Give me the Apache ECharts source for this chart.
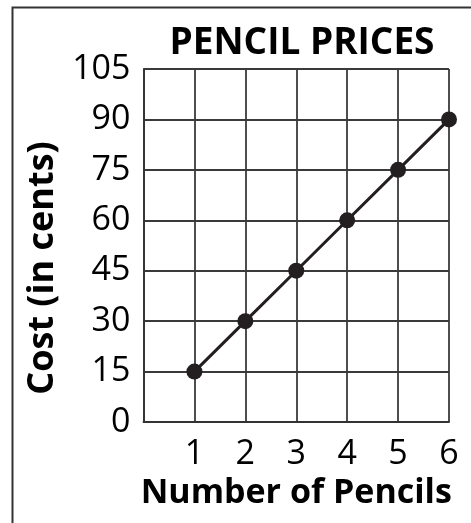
<!DOCTYPE html>
<html>
<head>
<meta charset="utf-8">
<script src="https://cdn.jsdelivr.net/npm/echarts@6/dist/echarts.min.js"></script>
<style>html,body{margin:0;padding:0;background:#fff}#c{width:471px;height:523px}</style>
</head>
<body>
<div id="c"></div>
<script>
var titleText = 'PENCIL PRICES';
var xName = 'Number of Pencils';
var yName = 'Cost (in cents)';
var pencils = [1, 2, 3, 4, 5, 6];
var costs = [15, 30, 45, 60, 75, 90];

var FONT = '"Open Sans", "Noto Sans", sans-serif';
var chart = echarts.init(document.getElementById('c'), null, {renderer: 'canvas'});
chart.setOption({
  animation: false,
  backgroundColor: '#fff',
  title: {
    text: titleText, left: 297, top: 20, textAlign: 'center',
    textStyle: {fontFamily: FONT, fontWeight: 'bold', fontSize: 37, color: '#000'}
  },
  grid: {left: 143.5, top: 69, right: 22, bottom: 101, containLabel: false},
  xAxis: {
    type: 'value', min: 0, max: 6, interval: 1,
    name: xName, nameLocation: 'middle', nameGap: 52,
    nameTextStyle: {fontFamily: FONT, fontWeight: 'bold', fontSize: 34, color: '#000'},
    axisLine: {show: true, lineStyle: {color: '#333', width: 1.8}},
    axisTick: {show: false},
    axisLabel: {fontFamily: FONT, fontSize: 34, color: '#000', margin: 15,
      formatter: function (v) { return v === 0 ? '' : String(v); }},
    splitLine: {show: true, lineStyle: {color: '#3a3a3a', width: 1.8}}
  },
  yAxis: {
    type: 'value', min: 0, max: 105, interval: 15,
    axisLine: {show: true, lineStyle: {color: '#333', width: 1.8}},
    axisTick: {show: false},
    axisLabel: {fontFamily: FONT, fontSize: 34, color: '#000', margin: 13, padding: [4, 0, 0, 0]},
    splitLine: {show: true, lineStyle: {color: '#3a3a3a', width: 1.8}}
  },
  graphic: [
    {type: 'rect', left: 10, top: 5, shape: {width: 520, height: 600},
      style: {fill: 'none', stroke: '#333', lineWidth: 2}, silent: true},
    {type: 'text', x: 43, y: 268, rotation: Math.PI / 2,
      style: {text: yName, font: 'bold 36px ' + FONT, fill: '#000', align: 'center', verticalAlign: 'middle'}}
  ],
  series: [{
    type: 'line',
    data: pencils.map(function (p, i) { return [p, costs[i]]; }),
    symbol: 'circle', symbolSize: 16,
    lineStyle: {color: '#231f20', width: 3},
    itemStyle: {color: '#231f20'},
    z: 5
  }]
});
</script>
</body>
</html>
